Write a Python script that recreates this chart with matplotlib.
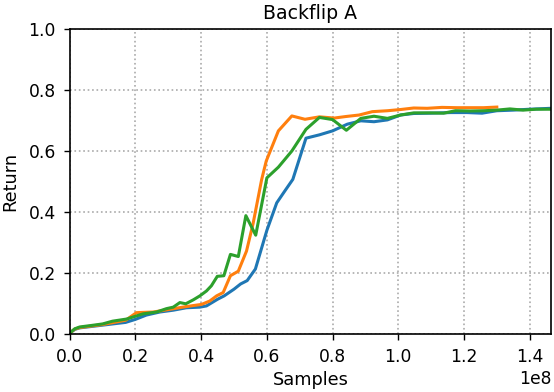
import matplotlib
matplotlib.use("Agg")
import matplotlib.pyplot as plt
import numpy as np

# Samples in units of 1e8
blue_x = [0.0, 0.015, 0.03, 0.1, 0.17, 0.2, 0.233, 0.274, 0.315, 0.355, 0.396, 0.416, 0.45, 0.47,
          0.50, 0.52, 0.54, 0.565, 0.6, 0.63, 0.654, 0.679, 0.719, 0.76, 0.8, 0.845, 0.886,
          0.926, 0.967, 1.007, 1.047, 1.098, 1.159, 1.209, 1.255, 1.3, 1.35, 1.4, 1.465]
blue_y = [0.003, 0.015, 0.02, 0.029, 0.038, 0.048, 0.062, 0.072, 0.078, 0.086, 0.088, 0.092, 0.114, 0.125,
          0.147, 0.164, 0.175, 0.213, 0.34, 0.43, 0.468, 0.507, 0.642, 0.653, 0.666, 0.688, 0.699,
          0.696, 0.702, 0.718, 0.723, 0.724, 0.726, 0.726, 0.724, 0.732, 0.734, 0.737, 0.74]

orange_x = [0.0, 0.015, 0.03, 0.1, 0.17, 0.203, 0.254, 0.305, 0.355, 0.401, 0.426, 0.447, 0.467,
            0.489, 0.513, 0.538, 0.558, 0.584, 0.598, 0.635, 0.676, 0.716, 0.76, 0.805, 0.84,
            0.881, 0.921, 0.967, 1.007, 1.047, 1.088, 1.133, 1.179, 1.219, 1.26, 1.3]
orange_y = [0.003, 0.016, 0.021, 0.031, 0.045, 0.07, 0.072, 0.081, 0.09, 0.097, 0.108, 0.125, 0.136,
            0.191, 0.206, 0.272, 0.362, 0.506, 0.567, 0.666, 0.715, 0.704, 0.712, 0.708, 0.713,
            0.718, 0.729, 0.732, 0.736, 0.741, 0.74, 0.743, 0.742, 0.742, 0.742, 0.744]

green_x = [0.0, 0.015, 0.03, 0.066, 0.1, 0.13, 0.173, 0.223, 0.264, 0.294, 0.315, 0.335, 0.353,
           0.376, 0.396, 0.416, 0.431, 0.449, 0.469, 0.489, 0.513, 0.536, 0.566, 0.6, 0.635,
           0.676, 0.719, 0.76, 0.8, 0.842, 0.886, 0.926, 0.967, 1.007, 1.047, 1.098, 1.138,
           1.174, 1.219, 1.26, 1.3, 1.34, 1.38, 1.42, 1.465]
green_y = [0.003, 0.017, 0.023, 0.028, 0.033, 0.042, 0.049, 0.066, 0.072, 0.083, 0.088, 0.103, 0.099,
           0.112, 0.125, 0.141, 0.158, 0.189, 0.191, 0.261, 0.254, 0.388, 0.324, 0.512, 0.547,
           0.6, 0.671, 0.71, 0.703, 0.668, 0.707, 0.714, 0.707, 0.718, 0.725, 0.725, 0.724,
           0.732, 0.731, 0.732, 0.734, 0.738, 0.734, 0.737, 0.737]

title = "Backflip A"
xlabel = "Samples"
ylabel = "Return"

plt.rcParams["font.size"] = 12.5
fig = plt.figure(figsize=(5.54, 3.92), dpi=100)
ax = fig.add_axes([0.126, 0.148, 0.8686, 0.778])
scale = 1e8
ax.plot(np.array(blue_x) * scale, blue_y, color="tab:blue", lw=2.2)
ax.plot(np.array(orange_x) * scale, orange_y, color="tab:orange", lw=2.2)
ax.plot(np.array(green_x) * scale, green_y, color="tab:green", lw=2.2)
ax.set_xlim(0, 1.465e8)
ax.set_ylim(0, 1.0)
ax.set_xticks(np.arange(0, 1.41e8, 0.2e8))
ax.set_yticks(np.arange(0, 1.01, 0.2))
ax.tick_params(labelsize=12.3, length=4.5, width=1.0, pad=5.5)
for s in ax.spines.values():
    s.set_linewidth(1.2)
ax.xaxis.get_offset_text().set_fontsize(12.3)
ax.grid(True, linestyle=":", color="#aaaaaa", lw=1.2)
ax.set_title(title, fontsize=13.6, pad=7)
ax.set_xlabel(xlabel, fontsize=12.8, labelpad=4)
ax.set_ylabel(ylabel, fontsize=12.8, labelpad=7)
fig.savefig("out.png", dpi=100)
